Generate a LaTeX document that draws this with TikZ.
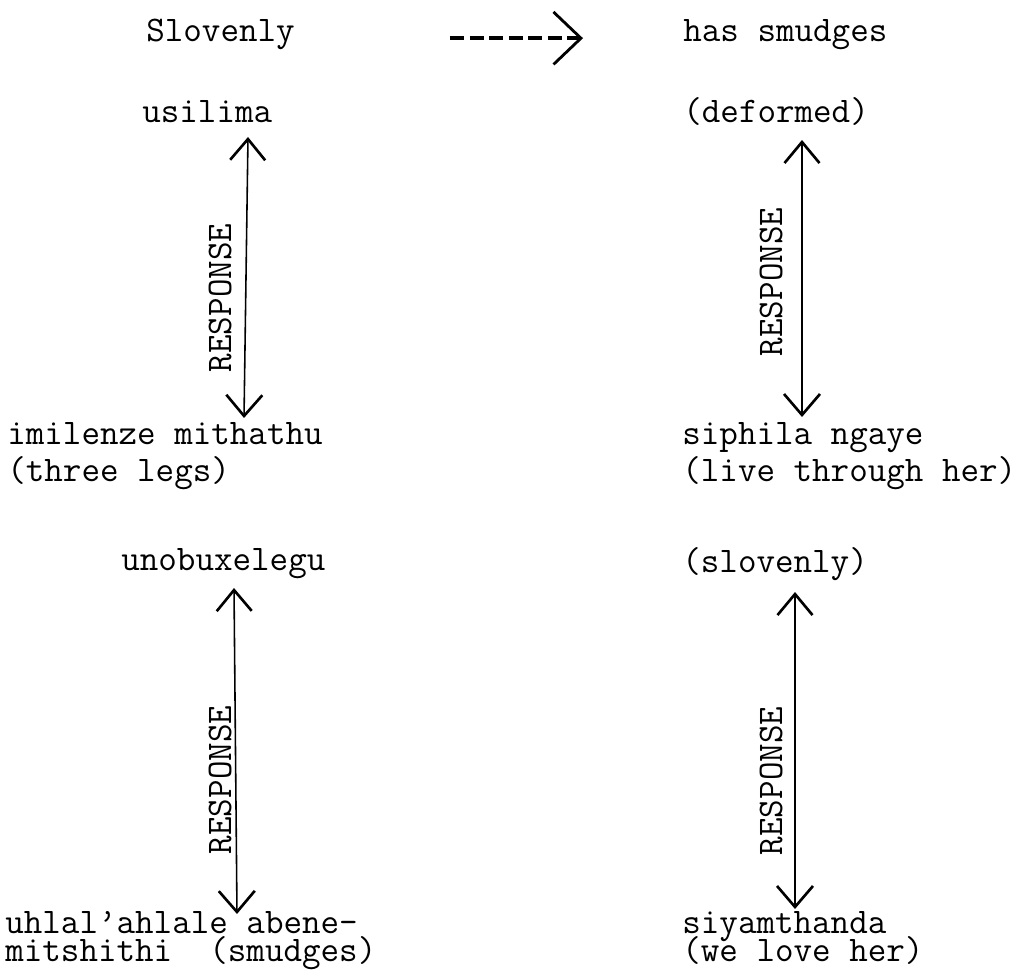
\documentclass[tikz,border=0pt]{standalone}
\usepackage{tikz}
\usetikzlibrary{arrows.meta}

\begin{document}
\begin{tikzpicture}[x=0.02cm,y=-0.02cm,
  font=\ttfamily\fontsize{20.5}{25}\selectfont,
  word/.style={anchor=base west,inner sep=0pt},
  vlabel/.style={rotate=90,inner sep=0pt},
  resp/.style={line width=0.9pt,
    {Straight Barb[length=0.42cm,width=0.7cm,line width=1.5pt]}-{Straight Barb[length=0.42cm,width=0.72cm,line width=1.5pt]}},
  lead/.style={line width=2.2pt,dash pattern=on 0.28cm off 0.11cm,
    -{Straight Barb[length=0.55cm,width=1.05cm,line width=1.6pt]}}]
  \useasboundingbox (0,0) rectangle (1029,979);
  % ---------------- top line ----------------
  \node[word] (slovenly) at (146,42) {Slovenly};
  \node[word] (smudges) at (683,42) {has smudges};
  \draw[lead,shorten <=3.1cm,shorten >=2.0cm] (slovenly.mid east) -- (smudges.mid west);
  % ---------------- upper left ----------------
  \node[word] (usilima) at (142,123) {usilima};
  \node[word] (imilenze) at (7,445) {imilenze mithathu};
  \node[word] (threelegs) at (7,482) {(three legs)};
  \coordinate (ua) at (248,137);
  \coordinate (ub) at (244,418);
  \draw[resp] (ua) -- (ub);
  \node[vlabel] (respa) at (220,298) {RESPONSE};
  % ---------------- upper right ----------------
  \node[word] (deformed) at (683,123) {(deformed)};
  \node[word] (siphila) at (682,445) {siphila ngaye};
  \node[word] (livethrough) at (682,482) {(live through her)};
  \coordinate (va) at (802,140);
  \coordinate (vb) at (802,417);
  \draw[resp] (va) -- (vb);
  \node[vlabel] (respb) at (771,282) {RESPONSE};
  % ---------------- lower left ----------------
  \node[word] (unobu) at (121,571) {unobuxelegu};
  \node[word] (uhlal) at (5,934) {uhlal’ahlale abene-};
  \node[word] (mitsh) at (5,962) {mitshithi\ \ (smudges)};
  \coordinate (wa) at (234,588);
  \coordinate (wb) at (237,914);
  \draw[resp] (wa) -- (wb);
  \node[vlabel] (respc) at (220,780) {RESPONSE};
  % ---------------- lower right ----------------
  \node[word] (slov) at (682,573) {(slovenly)};
  \node[word] (siyam) at (682,934) {siyamthanda};
  \node[word] (welove) at (682,962) {(we love her)};
  \coordinate (za) at (795,592);
  \coordinate (zb) at (795,909);
  \draw[resp] (za) -- (zb);
  \node[vlabel] (respd) at (771,781) {RESPONSE};
\end{tikzpicture}
\end{document}
